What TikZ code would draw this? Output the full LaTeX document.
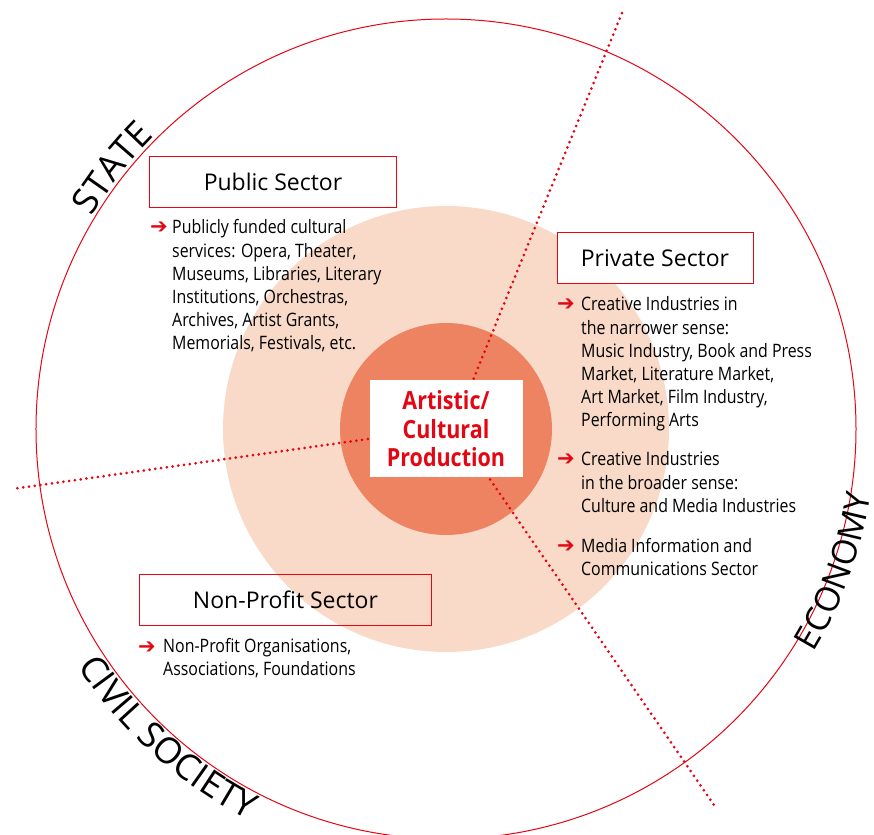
\documentclass[tikz,border=0pt]{standalone}
\usepackage{fontspec}
\setmainfont{Open Sans}
\newfontfamily\narrowfont[FakeStretch=0.86]{Open Sans}
\newfontfamily\symbolfont{DejaVu Sans}
\usetikzlibrary{decorations.text}

\definecolor{sectorred}{RGB}{227,6,19}
\definecolor{outerpeach}{RGB}{249,217,199}
\definecolor{innersalmon}{RGB}{238,131,98}

\newcommand{\itemarrow}{{\symbolfont\color{sectorred}➔}}

\begin{document}
\begin{tikzpicture}[x=1pt,y=1pt,
		sectorbox/.style={draw=sectorred,line width=1pt,inner sep=0pt,minimum height=51pt,
			font=\fontsize{23}{27}\selectfont},
		% the base of a multi-line node is its last line
		itemtext/.style={anchor=base west,align=left,inner sep=0pt,
			font=\narrowfont\fontsize{18.5}{23.2}\selectfont},
		bullet/.style={anchor=base west,inner sep=0pt,font=\fontsize{21}{24}\selectfont},
		dotline/.style={sectorred,line width=3pt,line cap=round,dash pattern=on 0pt off 5.8pt},
		realm/.style 2 args={decorate,decoration={text along path,text align=center,
			text={|\fontsize{#2}{#2}\selectfont|#1}}}]
		\useasboundingbox (-446,-405) rectangle (428,429);

		% rings
		\fill[outerpeach] (0,0) circle[radius=223];
		\fill[innersalmon] (0,0) circle[radius=106];
		\draw[sectorred,line width=1pt] (0,0) circle[radius=410];

		% sector borders
		\coordinate (hub) at (8,2);
		\coordinate (top) at (176,416);
		\coordinate (left) at (-434,-60);
		\coordinate (bottom) at (268,-376);
		\draw[dotline] (hub)--(top);
		\draw[dotline] (hub)--(left);
		\draw[dotline] (hub)--(bottom);

		% realms along the ring
		\path[realm={STATE}{36}] (162:413) arc[start angle=162,end angle=122,radius=413];
		\path[realm={CIVIL SOCIETY}{36}] (205:438) arc[start angle=205,end angle=251,radius=438];
		\path[realm={ECONOMY}{34}] (-42:430) arc[start angle=-42,end angle=2,radius=430];

		% public sector
		\node[sectorbox,minimum width=246pt] (public) at (-173,247) {Public Sector};
		\node[bullet] (pubarrow) at (-296,195) {\itemarrow};
		\node[itemtext] (pubitem) at (-274,79) {Publicly funded cultural\\services: Opera, Theater,\\Museums, Libraries, Literary\\Institutions, Orchestras,\\Archives, Artist Grants,\\Memorials, Festivals, etc.};

		% private sector
		\node[sectorbox,fill=white,minimum width=196pt] (private) at (209,170.5) {Private Sector};
		\node[bullet] (privarrowa) at (111,118) {\itemarrow};
		\node[itemtext] (privitema) at (135,2) {Creative Industries in\\the narrower sense:\\Music Industry, Book and Press\\Market, Literature Market,\\Art Market, Film Industry,\\Performing Arts};
		\node[bullet] (privarrowb) at (111,-37) {\itemarrow};
		\node[itemtext] (privitemb) at (135,-83.4) {Creative Industries\\in the broader sense:\\Culture and Media Industries};
		\node[bullet] (privarrowc) at (111,-123) {\itemarrow};
		\node[itemtext] (privitemc) at (135,-146.2) {Media Information and\\Communications Sector};

		% non-profit sector
		\node[sectorbox,minimum width=291pt] (nonprofit) at (-160.5,-171) {Non-Profit Sector};
		\node[bullet] (nparrow) at (-308,-224) {\itemarrow};
		\node[itemtext] (npitem) at (-283,-246.5) {Non-Profit Organisations,\\Associations, Foundations};

		% core
		\node[fill=white,inner sep=0pt,minimum width=153pt,minimum height=97pt,align=center,
			text=sectorred,font=\narrowfont\bfseries\fontsize{25}{28.5}\selectfont] (core) at (0,0)
			{Artistic/\\Cultural\\Production};
	\end{tikzpicture}
\end{document}
